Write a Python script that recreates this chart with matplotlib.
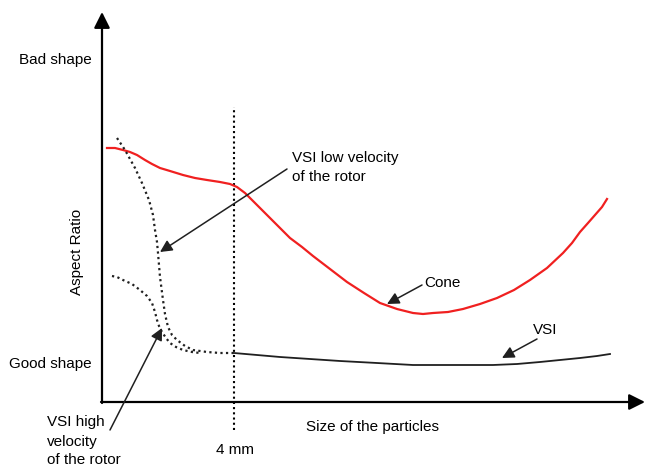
import matplotlib
matplotlib.use("Agg")
import matplotlib.pyplot as plt

plt.rcParams['font.family'] = ['Liberation Sans', 'DejaVu Sans']

# curves (arbitrary units: size of particles, aspect ratio)
cone_x = [5, 13, 21, 28, 35, 43, 50, 58, 68, 81, 93, 105, 118, 128, 135, 143, 151, 160, 168, 178,
          188, 200, 211, 228, 245, 262, 278, 295, 311, 321, 331, 346, 361, 378, 395, 412, 428, 445,
          461, 470, 478, 486, 493, 500, 505]
cone_y = [254, 254, 252, 250, 247, 242, 238, 234, 231, 227, 224, 222, 220, 218, 215, 209, 201, 192, 184, 174,
          164, 155, 146, 133, 120, 109, 99, 93, 89, 88, 89, 90, 93, 98, 104, 112, 122, 134,
          149, 159, 170, 179, 187, 195, 203]

vsi_x = [132, 155, 178, 208, 238, 275, 311, 351, 391, 415, 438, 458, 478, 495, 508]
vsi_y = [49, 47, 45, 43, 41, 39, 37, 37, 37, 38, 40, 42, 44, 46, 48]

low_x = [15, 19, 23, 28, 33, 40, 47, 51, 53, 55, 56, 58, 61, 63, 66, 70, 75, 83, 91, 98, 105, 118, 132]
low_y = [264, 258, 252, 243, 234, 219, 202, 187, 172, 160, 149, 125, 102, 88, 75, 67, 62, 56, 52, 51, 50, 49, 49]

high_x = [10, 15, 21, 30, 38, 45, 50, 53, 55, 57, 60, 64, 68, 74, 81, 90, 98]
high_y = [126, 125, 122, 118, 112, 106, 99, 90, 82, 76, 70, 64, 59, 55, 52, 50, 49]

x_4mm = 132

fig = plt.figure(figsize=(6.46, 4.67), dpi=100)
ax = fig.add_axes([102/646, 65/467, 543/646, 390/467])
ax.set_xlim(0, 543)
ax.set_ylim(0, 390)
ax.axis('off')

fs = 11

# axes with arrows
ax.annotate('', xy=(0, 390), xytext=(0, -1), annotation_clip=False,
            arrowprops=dict(arrowstyle='-|>', lw=1.6, color='black', mutation_scale=24, shrinkA=0, shrinkB=0))
ax.annotate('', xy=(543, 0), xytext=(-1, 0), annotation_clip=False,
            arrowprops=dict(arrowstyle='-|>', lw=1.6, color='black', mutation_scale=24, shrinkA=0, shrinkB=0))

# 4 mm line
ax.plot([x_4mm, x_4mm], [-28, 295], color='black', lw=1.5, ls=(0, (1, 1.5)), clip_on=False)

ax.plot(cone_x, cone_y, color='#f02020', lw=1.6)
ax.plot(vsi_x, vsi_y, color='#202020', lw=1.3)
ax.plot(low_x, low_y, color='#202020', lw=1.6, ls=(0, (1, 1.5)))
ax.plot(high_x, high_y, color='#202020', lw=1.6, ls=(0, (1, 1.5)))

arr = dict(arrowstyle='-|>', lw=1.1, color='#202020', mutation_scale=18, shrinkA=0, shrinkB=0)
ax.annotate('', xy=(58, 150), xytext=(185, 233), arrowprops=arr)
ax.annotate('', xy=(285, 98), xytext=(320, 117), arrowprops=arr)
ax.annotate('', xy=(400, 44), xytext=(435, 63), arrowprops=arr)
ax.annotate('', xy=(60, 74), xytext=(8, -28), arrowprops=arr, annotation_clip=False)

ax.text(190, 244, 'VSI low velocity', fontsize=fs, va='center', ha='left')
ax.text(190, 225, 'of the rotor', fontsize=fs, va='center', ha='left')
ax.text(322, 119, 'Cone', fontsize=fs, va='center', ha='left')
ax.text(431, 72, 'VSI', fontsize=fs, va='center', ha='left')
ax.text(-55, -20, 'VSI high', fontsize=fs, va='center', ha='left', clip_on=False)
ax.text(-55, -40, 'velocity', fontsize=fs, va='center', ha='left', clip_on=False)
ax.text(-55, -58, 'of the rotor', fontsize=fs, va='center', ha='left', clip_on=False)

ax.text(-10, 342, 'Bad shape', fontsize=fs, va='center', ha='right', clip_on=False)
ax.text(-10, 38, 'Good shape', fontsize=fs, va='center', ha='right', clip_on=False)
ax.text(-25, 150, 'Aspect Ratio', fontsize=fs, va='center', ha='center', rotation=90, clip_on=False)
ax.text(270, -25, 'Size of the particles', fontsize=fs, va='center', ha='center', clip_on=False)
ax.text(133, -48, '4 mm', fontsize=fs, va='center', ha='center', clip_on=False)

fig.savefig('out.png', dpi=100)
